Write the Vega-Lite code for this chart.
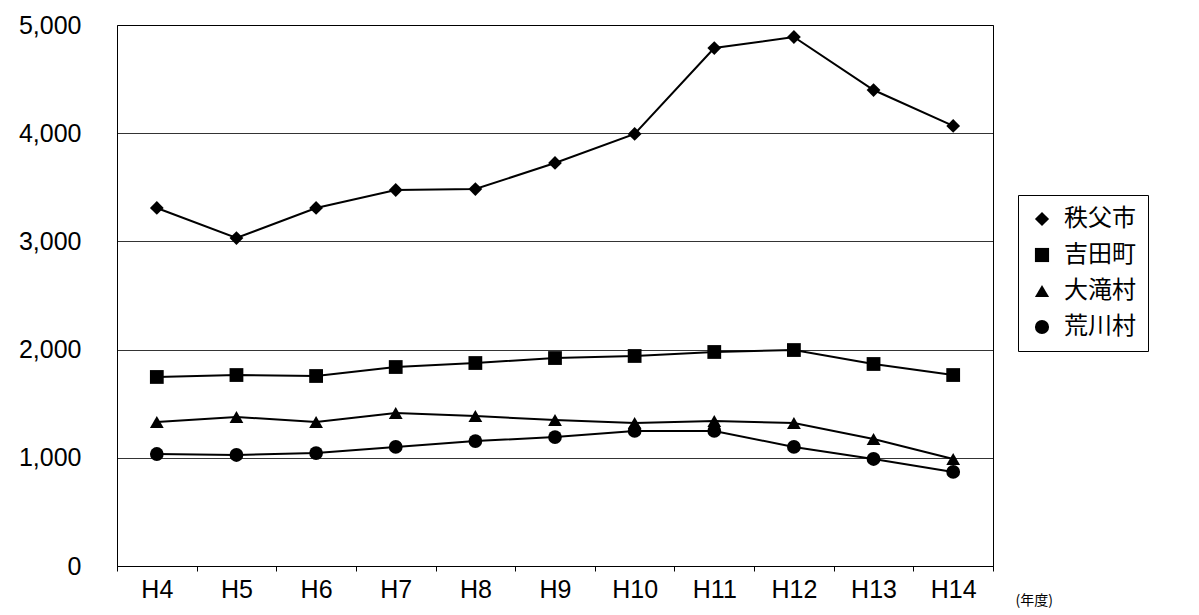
{
  "$schema": "https://vega.github.io/schema/vega-lite/v6.json",
  "width": 876,
  "height": 541,
  "autosize": "none",
  "padding": {"left": 117, "top": 25, "right": 206, "bottom": 49},
  "background": "white",
  "data": {"values": [
    {"y":"H4","c":"秩父市","v":3309},{"y":"H5","c":"秩父市","v":3031},{"y":"H6","c":"秩父市","v":3309},{"y":"H7","c":"秩父市","v":3475},{"y":"H8","c":"秩父市","v":3484},{"y":"H9","c":"秩父市","v":3725},{"y":"H10","c":"秩父市","v":3993},{"y":"H11","c":"秩父市","v":4787},{"y":"H12","c":"秩父市","v":4889},{"y":"H13","c":"秩父市","v":4399},{"y":"H14","c":"秩父市","v":4067},
    {"y":"H4","c":"吉田町","v":1747},{"y":"H5","c":"吉田町","v":1765},{"y":"H6","c":"吉田町","v":1756},{"y":"H7","c":"吉田町","v":1839},{"y":"H8","c":"吉田町","v":1876},{"y":"H9","c":"吉田町","v":1922},{"y":"H10","c":"吉田町","v":1941},{"y":"H11","c":"吉田町","v":1978},{"y":"H12","c":"吉田町","v":1996},{"y":"H13","c":"吉田町","v":1867},{"y":"H14","c":"吉田町","v":1765},
    {"y":"H4","c":"大滝村","v":1331},{"y":"H5","c":"大滝村","v":1377},{"y":"H6","c":"大滝村","v":1331},{"y":"H7","c":"大滝村","v":1414},{"y":"H8","c":"大滝村","v":1386},{"y":"H9","c":"大滝村","v":1349},{"y":"H10","c":"大滝村","v":1322},{"y":"H11","c":"大滝村","v":1340},{"y":"H12","c":"大滝村","v":1322},{"y":"H13","c":"大滝村","v":1174},{"y":"H14","c":"大滝村","v":989},
    {"y":"H4","c":"荒川村","v":1035},{"y":"H5","c":"荒川村","v":1026},{"y":"H6","c":"荒川村","v":1044},{"y":"H7","c":"荒川村","v":1100},{"y":"H8","c":"荒川村","v":1155},{"y":"H9","c":"荒川村","v":1192},{"y":"H10","c":"荒川村","v":1248},{"y":"H11","c":"荒川村","v":1248},{"y":"H12","c":"荒川村","v":1100},{"y":"H13","c":"荒川村","v":989},{"y":"H14","c":"荒川村","v":869}
  ]},
  "encoding": {
    "x": {"field": "y", "type": "ordinal", "sort": null,
      "scale": {"type": "band", "paddingInner": 0, "paddingOuter": 0},
      "axis": {"title": "(年度)", "titleX": 898, "titleY": 34, "titleAlign": "left", "titleBaseline": "middle", "titleFontSize": 14, "titleFontWeight": "normal", "titleFont": "Noto Sans CJK JP",
        "labelAngle": 0, "labelFontSize": 25, "labelFont": "Liberation Sans", "labelColor": "black", "labelPadding": 6,
        "tickBand": "extent", "tickColor": "black", "domainColor": "black", "grid": false}},
    "y": {"field": "v", "type": "quantitative",
      "scale": {"domain": [0, 5000]},
      "axis": {"title": null, "values": [0,1000,2000,3000,4000,5000], "format": ",.0f", "labelFontSize": 25, "labelFont": "Liberation Sans", "labelColor": "black", "labelPadding": 36,
        "ticks": false, "domain": false, "gridColor": "black", "gridWidth": 0.8}},
    "detail": {"field": "c"}
  },
  "layer": [
    {"mark": {"type": "line", "color": "black", "strokeWidth": 2}},
    {"mark": {"type": "point", "filled": true, "color": "black", "opacity": 1, "size": 190},
     "encoding": {"shape": {"field": "c", "type": "nominal",
       "scale": {"domain": ["秩父市","吉田町","大滝村","荒川村"], "range": ["diamond","square","triangle-up","circle"]},
       "legend": {"title": null, "orient": "none", "legendX": 901, "legendY": 170, "labelFont": "Noto Sans CJK JP", "labelFontSize": 24, "labelColor": "black",
         "symbolSize": 200, "symbolFillColor": "black", "symbolStrokeColor": "black", "rowPadding": 12, "padding": 12, "labelOffset": 10,
         "strokeColor": "black", "fillColor": "white"}}}}
  ],
  "config": {"view": {"stroke": "black", "strokeWidth": 1}}
}
